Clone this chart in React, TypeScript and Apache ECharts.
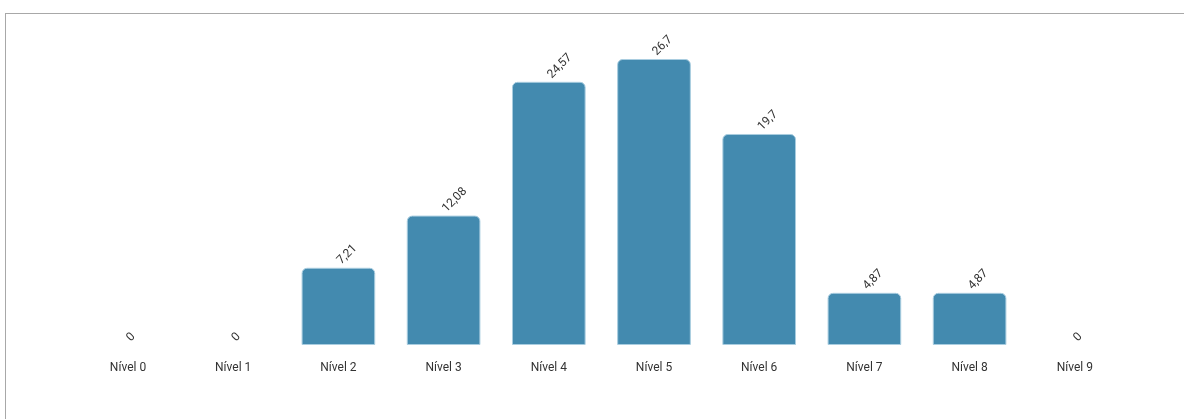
import React, { useEffect, useRef } from "react";
import * as echarts from "echarts";

const categories = ["Nível 0", "Nível 1", "Nível 2", "Nível 3", "Nível 4", "Nível 5", "Nível 6", "Nível 7", "Nível 8", "Nível 9"];
const values = [0, 0, 7.21, 12.08, 24.57, 26.7, 19.7, 4.87, 4.87, 0];

export default function App() {
  const ref = useRef<HTMLDivElement>(null);
  useEffect(() => {
    if (!ref.current) return;
    const chart = echarts.init(ref.current, null, { renderer: "svg" });
    chart.setOption({
      animation: false,
      textStyle: { fontFamily: "Roboto" },
      grid: { left: 75.4, right: 56.6, top: 59, bottom: 74 },
      xAxis: {
        type: "category",
        data: categories,
        axisLine: { show: false },
        axisTick: { show: false },
        axisLabel: { color: "#333", fontSize: 12, margin: 16, fontFamily: "Roboto" },
      },
      yAxis: {
        type: "value",
        min: 0,
        max: 26.7,
        show: false,
        splitLine: { show: false },
      },
      series: [
        {
          type: "bar",
          data: values.map((v) =>
            v === 0 ? { value: v, itemStyle: { borderWidth: 0, borderColor: "rgba(0,0,0,0)", color: "rgba(0,0,0,0)" } } : v
          ),
          barWidth: "70%",
          itemStyle: {
            color: "#438aaf",
            borderColor: "#a9cde0",
            borderWidth: 1,
            borderRadius: [5, 5, 0, 0],
          },
          label: {
            show: true,
            position: "top",
            rotate: 45,
            align: "left",
            verticalAlign: "middle",
            distance: 6,
            color: "#333",
            fontSize: 12,
            fontFamily: "Roboto",
            formatter: (p: any) => String(p.value).replace(".", ","),
          },
        },
      ],
    });
    return () => chart.dispose();
  }, []);
  return (
    <>
      <div
        style={{
          position: "fixed",
          left: 5,
          top: 13,
          width: 1184 - 5,
          height: 419 - 13,
          borderLeft: "1px solid #a8a8a8",
          borderTop: "1px solid #a8a8a8",
          boxSizing: "border-box",
        }}
      />
      <div ref={ref} style={{ position: "fixed", left: 0, top: 0, width: 1184, height: 419 }} />
    </>
  );
}
